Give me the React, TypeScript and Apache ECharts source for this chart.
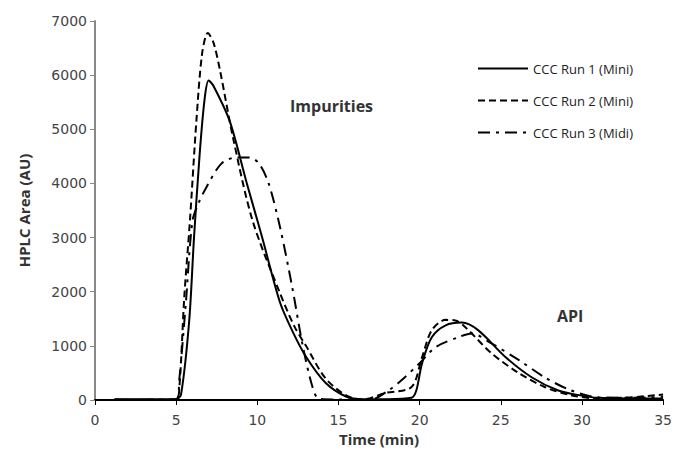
import React, { useEffect, useRef } from "react";
import * as echarts from "echarts";

const seriesNames = ["CCC Run 1 (Mini)", "CCC Run 2 (Mini)", "CCC Run 3 (Midi)"];

const run1Time = [1.2, 3, 5, 5.3, 5.8, 6.1, 6.45, 6.75, 7.0, 7.3, 8.3, 9.3, 10.3, 11.4, 12.2, 13.0, 14.2, 15.5, 16.5, 18, 19.5, 19.8, 20.15, 20.75, 21.6, 22.6, 23.6, 25.3, 26.9, 28.5, 29.8, 31, 33, 35];
const run1Area = [15, 15, 15, 100, 1450, 3000, 4550, 5550, 5900, 5800, 5150, 4060, 3000, 1800, 1250, 800, 320, 60, 15, 15, 40, 180, 680, 1160, 1380, 1430, 1290, 790, 420, 180, 90, 40, 30, 30];

const run2Time = [1.2, 3, 5, 5.2, 5.5, 5.85, 6.25, 6.6, 6.95, 7.3, 7.7, 8.5, 9.7, 11.4, 12.3, 13, 14.2, 15.5, 16.5, 17.9, 19.5, 20.15, 20.75, 21.6, 22.2, 22.8, 24.4, 26.1, 27.7, 29.3, 31, 33, 35];
const run2Area = [5, 5, 10, 240, 1900, 3320, 5170, 6400, 6780, 6600, 6090, 4850, 3320, 1970, 1350, 1000, 400, 80, 10, 130, 240, 790, 1290, 1480, 1470, 1350, 870, 500, 240, 90, 30, 50, 100];

const run3Time = [1.2, 3, 5, 5.2, 5.6, 6.0, 6.4, 6.9, 7.8, 8.7, 9.5, 10.1, 10.7, 11.4, 12.15, 12.8, 13.4, 13.8, 15, 17, 18.1, 18.9, 20, 21, 22.4, 23.2, 24.4, 26.1, 27.7, 29.3, 31, 33, 35];
const run3Area = [5, 5, 10, 400, 1800, 3300, 3650, 3950, 4370, 4480, 4480, 4370, 4000, 3190, 2085, 1000, 240, 20, 10, 10, 180, 370, 680, 980, 1160, 1230, 1050, 740, 420, 180, 50, 40, 60];

const xTicks = { min: 0, max: 35, interval: 5 };
const yTicks = { min: 0, max: 7000, interval: 1000 };

const pairs = (t: number[], v: number[]) => t.map((x, i) => [x, v[i]]);

export default function App() {
  const ref = useRef<HTMLDivElement>(null);
  useEffect(() => {
    if (!ref.current) return;
    const chart = echarts.init(ref.current, null, { renderer: "svg" });
    const font = "'Open Sans', 'DejaVu Sans', sans-serif";
    const lineTypes: any[] = ["solid", [7, 4], [12, 6, 3, 6]];
    const datas = [pairs(run1Time, run1Area), pairs(run2Time, run2Area), pairs(run3Time, run3Area)];
    chart.setOption({
      animation: false,
      backgroundColor: "#fff",
      grid: { left: 95, right: 10, top: 21, bottom: 62 },
      legend: {
        orient: "vertical",
        left: 477,
        top: 62,
        itemWidth: 50,
        itemHeight: 14,
        itemGap: 19,
        padding: 0,
        itemStyle: { opacity: 0 },
        textStyle: { fontFamily: font, fontSize: 13, color: "#222" },
        data: seriesNames,
      },
      xAxis: {
        type: "value",
        ...xTicks,
        name: "Time (min)",
        nameLocation: "middle",
        nameGap: 30,
        nameTextStyle: { fontFamily: font, fontSize: 15, fontWeight: "bold", color: "#333" },
        axisLine: { lineStyle: { color: "#000", width: 2 } },
        axisTick: { show: true, length: 5, lineStyle: { color: "#000" } },
        axisLabel: { fontFamily: "'DejaVu Sans', sans-serif", fontSize: 14, color: "#444", margin: 13 },
        splitLine: { show: false },
      },
      yAxis: {
        type: "value",
        ...yTicks,
        name: "HPLC Area (AU)",
        nameLocation: "middle",
        nameGap: 64,
        nameTextStyle: { fontFamily: font, fontSize: 15, fontWeight: "bold", color: "#333" },
        axisLine: { show: true, lineStyle: { color: "#888", width: 2 } },
        axisTick: { show: true, length: 5, lineStyle: { color: "#888" } },
        axisLabel: {
          fontFamily: "'DejaVu Sans', sans-serif",
          fontSize: 14,
          color: "#444",
          margin: 8,
          formatter: (v: number) => String(v),
        },
        splitLine: { show: false },
      },
      graphic: [
        { type: "text", left: 290, top: 98, style: { text: "Impurities", font: `bold 16px ${font}`, fill: "#333" } },
        { type: "text", left: 557, top: 308, style: { text: "API", font: `bold 16px ${font}`, fill: "#333" } },
      ],
      series: seriesNames.map((name, i) => ({
        name,
        type: "line",
        data: datas[i],
        smooth: 0.3,
        symbol: "none",
        lineStyle: { color: "#000", width: 2, type: lineTypes[i] },
        itemStyle: { color: "#000" },
      })),
    });
    return () => chart.dispose();
  }, []);
  return <div ref={ref} style={{ position: "fixed", left: 0, top: 0, width: 675, height: 462 }} />;
}
